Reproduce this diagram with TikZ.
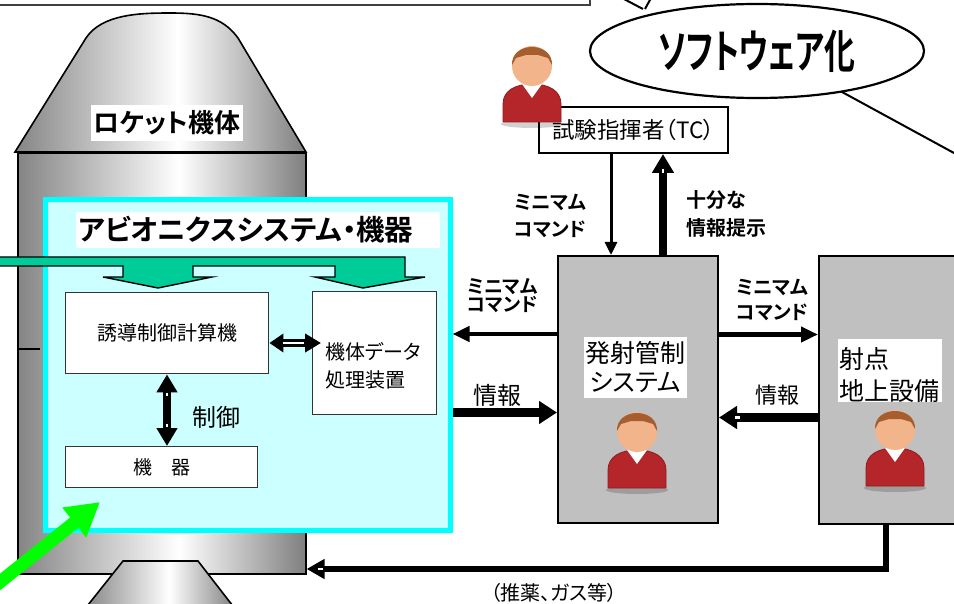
\documentclass[tikz,border=0pt]{standalone}
\usepackage{fontspec}
\usepackage{graphicx}
\setmainfont{Noto Sans CJK JP}[RawFeature=+palt, BoldFont={Noto Sans CJK JP Bold}]
\usetikzlibrary{arrows.meta,shapes.geometric,calc}

\definecolor{avfill}{HTML}{CCFFFF}
\definecolor{avedge}{HTML}{00FFFF}
\definecolor{busgreen}{HTML}{00CC99}
\definecolor{linkgreen}{HTML}{00FF00}
\definecolor{panelgray}{HTML}{C0C0C0}
\definecolor{skin}{HTML}{F2B48A}
\definecolor{hair}{HTML}{A65E2E}
\definecolor{shirt}{HTML}{B5262B}
\definecolor{shirtdark}{HTML}{8E1A1E}

% metallic hull: grey at both sides, bright band right of centre
\pgfdeclarehorizontalshading{hullshade}{100bp}{color(0bp)=(black!48); color(25bp)=(black!48); color(53bp)=(white); color(75bp)=(black!50); color(100bp)=(black!50)}

\begin{document}
\begin{tikzpicture}[x=1pt,y=-1pt,
  box/.style={draw=black!80, line width=1.4, fill=white, inner sep=0, anchor=north west},
  panel/.style={draw=black, line width=2, fill=panelgray, inner sep=0, anchor=north west},
  lbl/.style={inner sep=0, align=left, anchor=west},
  thinarr/.style={line width=4.5, -{Triangle[length=17pt,width=15pt]}},
  fatarr/.style={line width=8.5, -{Triangle[length=18pt,width=22pt]}},
  notch/.style={white, line width=2.2},
  person/.pic={
    \fill[black, opacity=.18] (0,58) ellipse [x radius=31, y radius=4];
    \filldraw[fill=shirt, draw=shirtdark, line width=.8] (-29,56) -- (-29,38) .. controls (-29,25) and (-17,18) .. (0,18) .. controls (17,18) and (29,25) .. (29,38) -- (29,56) -- cycle;
    \fill[white] (-10,18) -- (10,18) -- (0,32) -- cycle;
    \fill[skin] (0,0) circle [radius=20];
    \fill[hair] (-20,-1) .. controls (-21,-25) and (21,-25) .. (20,-1) -- (16,-8) -- (6,-11) -- (-6,-11) -- (-16,-8) -- cycle;
  }
]
\useasboundingbox (0,0) rectangle (954,604);

% corner of the caption frame
\draw[line width=2, black!75] (0,5) -- (590,5) -- (590,-5);

% speech bubble with its pointers
\draw[line width=2] (622,-2) -- (643,9);
\draw[line width=2] (651,-2) -- (645,9);
\draw[line width=2] (820,80) -- (965,159);
\node[draw, line width=2.2, fill=white, ellipse, minimum width=334, minimum height=94, inner sep=0] (soft) at (757,51)
  {\bfseries\fontsize{46}{46}\selectfont\scalebox{0.67}[1]{ソフトウェア化}};

% rocket: nose cone, hull, nozzle
\shadedraw[shading=hullshade, line width=1.6] (15,152) -- (86,38) .. controls (102,14) and (140,13) .. (170,13) .. controls (200,13) and (222,16) .. (238,38) -- (306,152) -- cycle;
\node[shading=hullshade, draw=black, line width=1.6, minimum width=288, minimum height=421, inner sep=0, anchor=north west] (hull) at (17,152) {};
\draw[line width=1.6] (17,349) -- (40,349);
\shadedraw[shading=hullshade, line width=1.6] (123,561) -- (198,561) -- (236,610) -- (84,610) -- cycle;
\node[fill=white, inner sep=0, minimum width=152, minimum height=36, font=\bfseries\fontsize{26}{28}\selectfont] (hulltitle) at (167,123) {ロケット機体};

% avionics enclosure
\node[draw=avedge, line width=5, fill=avfill, minimum width=405, minimum height=330.5, inner sep=0, anchor=north west] (av) at (42.5,197) {};
\fill[white] (76,212) rectangle (440,248);
\node[lbl, font=\bfseries\fontsize{28.5}{30}\selectfont] (avtitle) at (78,230) {アビオニクスシステム・機器};

% power/signal bus entering from the left
\draw[fill=busgreen, line width=1.4] (-2,257) -- (405,257) -- (405,277) -- (425,277) -- (363,288) -- (315,277) -- (335,277) -- (335,266) -- (193,266) -- (193,277) -- (212,277) -- (158,288) -- (103,277) -- (123,277) -- (123,266) -- (-2,266) -- cycle;

% onboard units
\node[box, minimum width=203, minimum height=81, font=\fontsize{20}{24}\selectfont] (gcc) at (65,292) {誘導制御計算機};
\node[box, minimum width=124, minimum height=123] (dpu) at (312,291) {};
\node[lbl, font=\fontsize{20}{28}\selectfont] (dputext) at (325,366) {機体データ\\処理装置};
\node[box, minimum width=192, minimum height=41, font=\fontsize{19}{22}\selectfont] (eqp) at (65,446) {機\hspace{1em}器};

\coordinate (ylink) at (0,343);
\coordinate (xctl) at (167,0);
\draw[line width=8, {Triangle[length=14pt,width=18pt]}-{Triangle[length=16pt,width=18pt]}] (gcc.east |- ylink) -- ($(dpu.west |- ylink)+(9,0)$);
\draw[notch] (283,343) -- (304,343);
\draw[line width=8, {Triangle[length=18pt,width=20pt]}-{Triangle[length=18pt,width=20pt]}] (gcc.south -| xctl) -- (eqp.north -| xctl);
\draw[notch] (167,392.5) -- (167,396);
\draw[notch] (167,423.5) -- (167,427);
\node[font=\fontsize{24}{26}\selectfont, inner sep=0] (ctl) at (216,417) {制御};

% ground side
\node[box, draw=black, line width=2, minimum width=189, minimum height=46, font=\fontsize{22.5}{24}\selectfont] (tc) at (538,106) {試験指揮者（TC）};
\node[panel, minimum width=160, minimum height=267] (lcs) at (557,255) {};
\node[fill=white, inner sep=0, minimum width=103, minimum height=61, align=center, font=\fontsize{25}{29}\selectfont] (lcslabel) at (635.5,367.5) {発射管制\\システム};
\node[panel, minimum width=150, minimum height=268] (gse) at (818,255) {};
\fill[white] (838,339) rectangle (942,402);
\node[lbl, font=\fontsize{25}{32}\selectfont] (gselabel) at (839,375) {射点\\地上設備};

\pic at (532,66) {person};
\pic at (637,432) {person};
\pic at (895,430) {person};

% command and information flows
\coordinate (xcmd) at (611,0);
\coordinate (xinfo) at (663,0);
\coordinate (ycmdL) at (0,334);
\coordinate (ycmdR) at (0,334.5);
\coordinate (yinfoL) at (0,412.5);
\coordinate (yinfoR) at (0,417.5);
\coordinate (xsupply) at (886,0);
\coordinate (ysupply) at (0,569);

\draw[line width=3, -{Triangle[length=13pt,width=12pt]}] (tc.south -| xcmd) -- (lcs.north -| xcmd);
\draw[line width=7.5, -{Triangle[length=19pt,width=21pt]}] (lcs.north -| xinfo) -- (tc.south -| xinfo);
\draw[notch] (663,169.5) -- (663,173.5);
\draw[thinarr] (lcs.west |- ycmdL) -- (av.east |- ycmdL);
\draw[thinarr] (lcs.east |- ycmdR) -- (gse.west |- ycmdR);
\draw[fatarr] (av.east |- yinfoL) -- (lcs.west |- yinfoL);
\draw[fatarr] (gse.west |- yinfoR) -- (lcs.east |- yinfoR);
\draw[notch] (735,417.5) -- (739.5,417.5);
\draw[line width=6.5, -{Triangle[length=18pt,width=19pt]}] (gse.south -| xsupply) -- (xsupply |- ysupply) -- (hull.east |- ysupply);
\draw[notch] (318,569) -- (322.5,569);

\node[lbl, font=\bfseries\fontsize{19.5}{27.5}\selectfont] (cmdtop) at (514,216) {ミニマム\\コマンド};
\node[lbl, font=\bfseries\fontsize{20}{28.5}\selectfont] (infotop) at (686,214) {十分な\\情報提示};
\node[lbl, font=\bfseries\fontsize{19}{18}\selectfont] (cmdleft) at (467,295.5) {ミニマム\\コマンド};
\node[lbl, font=\bfseries\fontsize{19.5}{24.5}\selectfont] (cmdright) at (736,300) {ミニマム\\コマンド};
\node[font=\fontsize{24}{26}\selectfont, inner sep=0] (infoleft) at (497,395) {情報};
\node[font=\fontsize{22}{24}\selectfont, inner sep=0] (inforight) at (777,395) {情報};
\node[font=\fontsize{20}{22}\selectfont, inner sep=0] (supply) at (554,593) {（推薬、ガス等）};

% radio link into the avionics
\draw[linkgreen, line width=13, -{Triangle[length=33pt,width=36pt]}] (-20,598) -- (100,502);
\end{tikzpicture}
\end{document}
